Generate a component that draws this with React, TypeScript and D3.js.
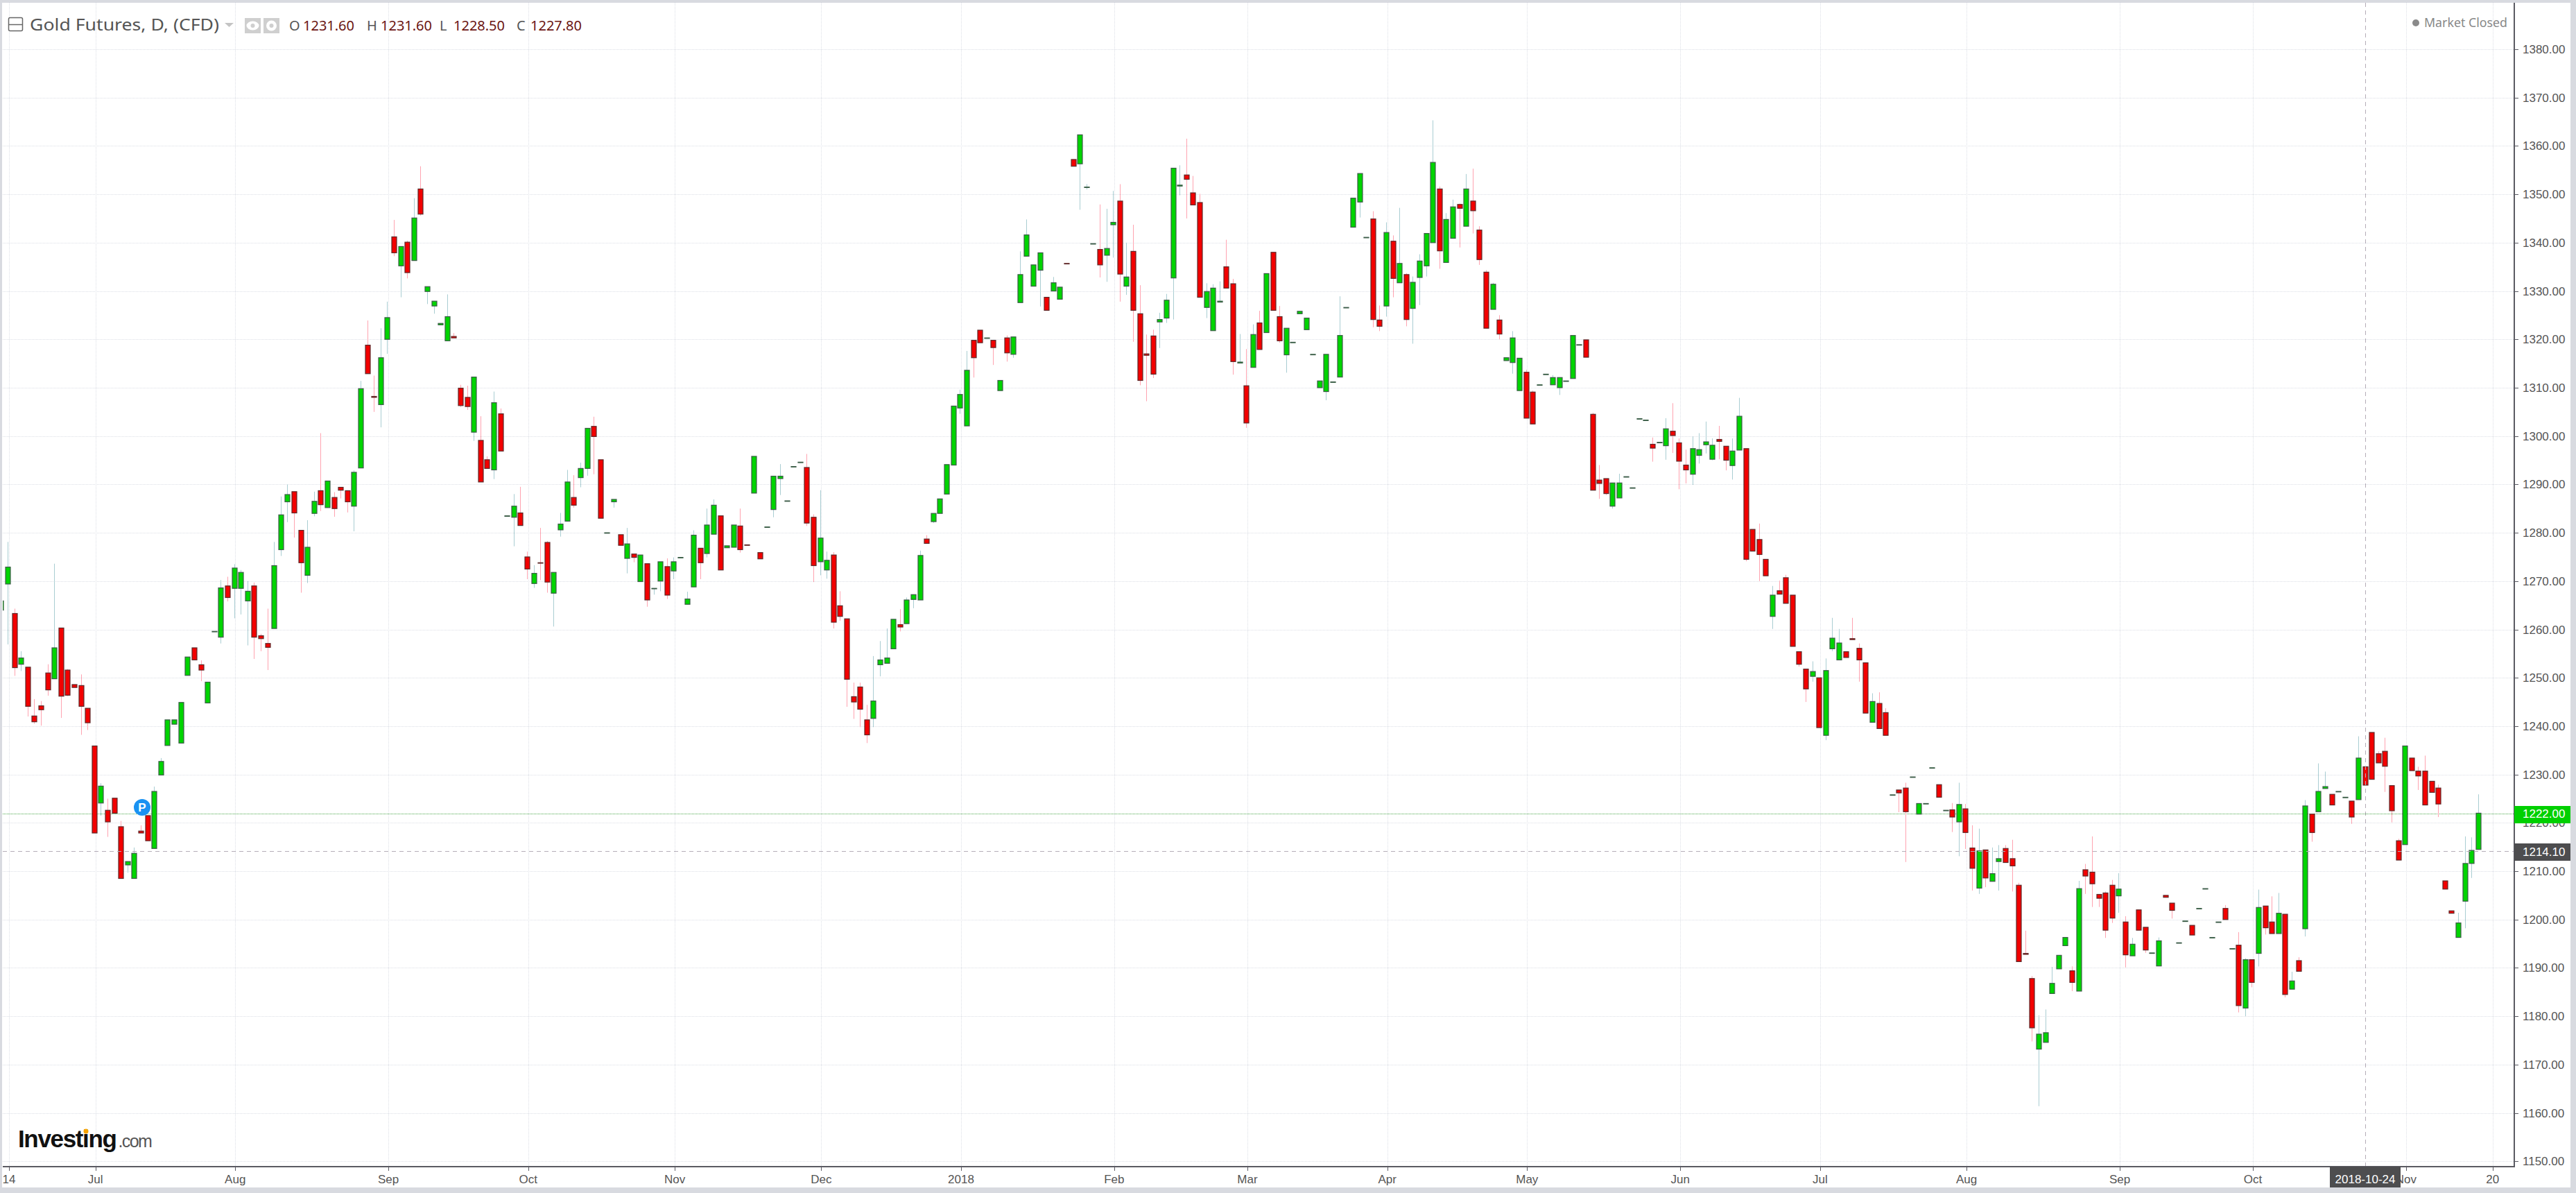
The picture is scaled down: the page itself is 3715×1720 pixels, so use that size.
import React from "react";
import * as d3 from "d3";

type Row = [number, number, number, number];
// each row: open, high, low, close
const jun17: Row[] = [[1264,1265.9,1264,1265.9],[1269.4,1278.1,1256.9,1272.9],[1263.3,1264.3,1250.4,1252.1],[1252.8,1255.5,1251.4,1254.1],[1252.2,1252.2,1242,1244.1],[1242.1,1245.6,1240.5,1240.9],[1244.2,1245.2,1240.1,1243.4],[1251,1252.8,1246.3,1247.5],[1249.8,1273.6,1249.8,1256.2],[1260.3,1260.3,1241.7,1246.2],[1251.6,1251.8,1246.2,1246.4],[1248.6,1248.6,1248,1248],[1248.4,1250.7,1238.2,1244.1],[1243.7,1243.7,1239.2,1240.7]];
const jul17: Row[] = [[1235.9,1235.9,1217.9,1217.9],[1224.1,1228.2,1221.5,1227.6],[1222.6,1225,1217.1,1220.2],[1225.1,1225.1,1222,1222],[1219.2,1220.4,1208.5,1208.5],[1211.3,1212,1209.7,1212],[1208.5,1214.9,1208.5,1213.7],[1218.3,1219.5,1217.9,1217.9],[1221.5,1221.5,1216.3,1216.3],[1214.7,1227.5,1214.7,1226.5],[1229.9,1233.4,1229.9,1232.7],[1236,1241.3,1236,1241.3],[1240.4,1241.3,1240.4,1241.3],[1236.5,1244.9,1236.5,1244.9],[1250.5,1254.3,1250.5,1254.3],[1256.2,1256.2,1253.7,1253.7],[1252.7,1253.6,1249.3,1251.6],[1244.8,1249.1,1244.8,1249.1],[1259.5,1259.6,1259.5,1259.6],[1258.4,1270.2,1257.1,1268.6],[1269,1270.9,1265.8,1266.6]];
const aug17: Row[] = [[1268.5,1273.5,1262.3,1272.7],[1268.5,1272.3,1263.1,1271.8],[1265.9,1270,1256.7,1267.9],[1269,1269.7,1253.9,1258.4],[1258.7,1259.1,1255.5,1258.1],[1257.1,1264.3,1251.6,1256.3],[1260.2,1278.1,1260.2,1273.2],[1276.5,1287.5,1275.2,1283.7],[1286.4,1290,1282.2,1287.9],[1288.5,1288.5,1279,1284.1],[1280.5,1280.5,1267.6,1273.8],[1271.2,1282.6,1269.6,1277],[1284,1288.5,1283.4,1286.5],[1288.7,1300.6,1284.5,1285.8],[1285.2,1290.7,1285.2,1290.7],[1287.3,1288.4,1283.3,1285],[1289.4,1289.4,1287.1,1288.8],[1288.7,1288.7,1284.2,1286.4],[1285.5,1292.9,1280.3,1292.5],[1293.4,1311.4,1293.4,1309.8],[1318.8,1323.9,1312.9,1312.9],[1308.2,1312.5,1305,1308],[1306.5,1322.3,1301.8,1316.2]];
const sep17: Row[] = [[1320,1327.8,1317,1324.5],[1341.2,1344.7,1337.2,1337.9],[1335.2,1339.2,1328.7,1339.2],[1340.1,1340.4,1332.6,1333.8],[1336.3,1349.2,1336.3,1345.1],[1351.1,1355.8,1345.6,1345.9],[1329.9,1330.9,1327.3,1330.9],[1326.9,1327.9,1325.3,1327.9],[1323,1323.3,1323,1323.3],[1319.7,1329.3,1319.7,1324.7],[1320.6,1321.3,1320.3,1320.3],[1309.9,1310.6,1306,1306.3],[1308,1310.4,1305.4,1306.1],[1300.8,1312.2,1299,1312.2],[1299.1,1304.1,1290.5,1290.5],[1295.1,1295.8,1293.3,1293.3],[1293,1309.2,1291.1,1306.9],[1304.6,1305.7,1296.9,1296.9],[1283.4,1283.5,1283.4,1283.5],[1283.2,1288,1277.2,1285.5],[1284.1,1289.5,1281.5,1281.5]];
const oct17: Row[] = [[1275,1276.1,1270.4,1272.5],[1269.5,1273.3,1268.6,1271.6],[1273.8,1281,1270.2,1273.7],[1278,1278.3,1267.6,1269.8],[1267.5,1271.8,1260.6,1271.8],[1280.6,1284.1,1279.2,1281.8],[1282.4,1293,1282.4,1290.5],[1287.3,1291.9,1285.2,1285.7],[1291.4,1294.5,1289.4,1293.3],[1293.3,1301.6,1291.8,1301.6],[1302,1304,1292.1,1299.9],[1295.1,1295.1,1283,1283],[1279.9,1280,1279.9,1280],[1286.4,1286.9,1285.2,1286.9],[1279.6,1279.6,1277.4,1277.4],[1274.7,1281,1271.6,1277.7],[1275.6,1275.6,1273.9,1274.9],[1269.9,1275.4,1269.9,1275.4],[1273.6,1273.6,1264.7,1266.1],[1268.4,1268.5,1267.2,1268.5],[1270,1274,1267.9,1274],[1273,1274.7,1266.3,1267.1]];
const nov17: Row[] = [[1272.1,1274.9,1270.4,1274],[1274.8,1274.9,1274.8,1274.9],[1265.2,1267.8,1265.2,1266.3],[1268.8,1280.5,1268.8,1279.5],[1276.8,1276.8,1270.4,1273.8],[1275.7,1285,1274.9,1281.6],[1279.7,1286.9,1279.7,1285.7],[1283.5,1283.5,1272.3,1272.3],[1276.9,1277.3,1276.9,1277.3],[1277,1281.6,1277,1281.6],[1281.4,1285,1275.9,1276.5],[1277.5,1277.5,1277.4,1277.4],[1288.2,1295.8,1288.2,1295.8],[1275.9,1275.9,1274.6,1274.6],[1281.1,1281.2,1281.1,1281.2],[1284.8,1291.7,1283.2,1291.7],[1291.2,1294.2,1287.8,1291.7],[1286.5,1286.6,1286.5,1286.6],[1293.6,1293.7,1293.6,1293.7],[1294.5,1294.6,1294.5,1294.6],[1293.5,1296.3,1281.4,1282],[1283.2,1283.8,1269.8,1273.2]];
const dec17: Row[] = [[1274,1288.8,1271.2,1278.9],[1272.3,1276.1,1270.5,1274.3],[1275.4,1276,1260.2,1261.5],[1264.9,1267.9,1261.8,1262.7],[1262.2,1262.2,1244,1249.7],[1246.1,1249,1241.5,1245],[1248.1,1249,1239.8,1243.5],[1241.3,1244.4,1236.5,1238.2],[1241.6,1254.5,1239.8,1245.2],[1252.7,1257.6,1250.3,1253.7],[1253,1260.2,1253,1254.1],[1256,1262.1,1256,1262.1],[1261,1264.2,1259.6,1260.5],[1261.2,1266.6,1261.2,1266.1],[1266.2,1267.2,1264.4,1267.2],[1266.1,1276.3,1266.1,1275.3],[1278.7,1279.5,1277.8,1277.8],[1282.3,1284,1282,1284],[1284,1287,1284,1287],[1288,1294.1,1288,1294.1],[1294,1306.2,1294,1306.2]];
const jan18: Row[] = [[1305.8,1309.6,1304.6,1308.6],[1302.1,1317.6,1302.1,1313.6],[1319.8,1319.8,1312.1,1316.2],[1321.9,1321.9,1319.3,1319.3],[1320.2,1320.3,1320.2,1320.3],[1319.8,1319.8,1314.7,1318.3],[1309.4,1311.5,1309.4,1311.5],[1320.3,1320.8,1315.4,1317.2],[1316.9,1320.5,1316.2,1320.5],[1327.6,1338.2,1327.6,1333.4],[1337.2,1344.8,1337.2,1341.6],[1331,1335.4,1331,1335.4],[1334.3,1337.9,1326.8,1337.9],[1328.7,1328.7,1326,1326],[1330,1332.9,1330,1331.7],[1328.3,1330.8,1328.3,1330.8],[1335.7,1335.7,1335.6,1335.6],[1357.2,1357.2,1355.8,1355.8],[1356.3,1362.3,1346.8,1362.3],[1351.4,1352.1,1351,1351.5],[1339.7,1339.8,1339.7,1339.8],[1338.6,1347.9,1332.8,1335.4],[1337.4,1347,1331.9,1338.8]];
const feb18: Row[] = [[1343.7,1350.7,1336.9,1344.2],[1348.6,1352.1,1327.8,1333.5],[1331,1340,1329.2,1332.9],[1338.2,1343.7,1319.5,1326],[1325.3,1331.2,1310.5,1311.5],[1317,1321,1307.2,1316.7],[1320.7,1322,1312,1312.8],[1323.6,1325.5,1318.2,1324.1],[1324.4,1329.4,1323.4,1328.1],[1332.7,1355.4,1324.1,1355.4],[1351.7,1356,1349.8,1351.9],[1354,1361.5,1345,1353.1],[1350.3,1353.8,1347.8,1347.8],[1348.3,1350.1,1328.7,1328.7],[1326.6,1331.6,1324.4,1329.9],[1321.8,1331.4,1321.8,1330.6],[1327.7,1332,1327.7,1327.9],[1335,1340.6,1330.6,1330.6],[1331.5,1332.5,1312.7,1315.4],[1315.1,1321.1,1315.1,1315.3]];
const mar18: Row[] = [[1310.4,1318,1301.7,1302.7],[1314.2,1323.1,1314.2,1321],[1323.4,1325.9,1317.9,1317.9],[1321.4,1333.6,1321.4,1333.6],[1338,1338,1326,1326],[1324.7,1326.9,1319.3,1319.7],[1316.8,1322.3,1313.1,1322.3],[1319.3,1319.4,1319.3,1319.4],[1325.3,1325.8,1325.3,1325.8],[1322,1324.4,1322,1324.4],[1316.8,1316.9,1316.8,1316.9],[1310,1311.4,1310,1311.4],[1309.2,1316.9,1307.4,1316.9],[1311.1,1311.2,1311.1,1311.2],[1312.2,1328.9,1312.2,1320.8],[1326.5,1326.6,1326.5,1326.6],[1343.2,1349.2,1343.2,1349.2],[1348.4,1354.3,1345.2,1354.3],[1341,1341.1,1341,1341.1],[1344.9,1346.5,1322.5,1324.1],[1324,1327,1321.7,1322.7]];
const apr18: Row[] = [[1326.9,1344.2,1324.7,1342.1],[1340.3,1341.5,1328.7,1332.6],[1331.7,1347.2,1331.7,1335.7],[1333.4,1333.7,1322.7,1324.1],[1326.4,1333,1319.1,1331.8],[1332.8,1337.6,1327.1,1336.2],[1335.2,1341.9,1333,1341.9],[1340,1365.3,1340,1356.6],[1351.1,1351.6,1334.6,1338.3],[1335.9,1346.1,1335.9,1344.8],[1340.9,1348.9,1340.9,1347.4],[1347.9,1348.1,1339,1347.1],[1343.4,1354.2,1343.4,1351.1],[1348.6,1355.3,1341.9,1346.6],[1342.6,1343.4,1335.4,1336.5],[1333.9,1334.3,1322.3,1322.3],[1326.2,1331.7,1326.2,1331.4],[1324,1325,1320,1321.1],[1315.6,1316.2,1315.6,1316.2],[1315.2,1321.7,1312.9,1320.3],[1309.4,1316.1,1309.4,1316.1]];
const may18: Row[] = [[1313.2,1313.7,1303.7,1303.7],[1309.1,1309.4,1302.5,1302.5],[1310.5,1310.6,1310.5,1310.6],[1312.7,1312.8,1312.7,1312.8],[1310.6,1312.6,1310.6,1312.1],[1310,1312.1,1308.5,1312.1],[1311.3,1311.4,1311.3,1311.4],[1311.9,1320.8,1311.9,1320.8],[1318.8,1318.9,1318.8,1318.9],[1319.9,1319.9,1316.3,1316.3],[1304.5,1304.8,1288.8,1288.8],[1290.9,1294,1287,1290.2],[1291.2,1291.2,1287.8,1288.1],[1285.5,1290.3,1285,1290.3],[1287.2,1292.2,1287.2,1290.3],[1291.5,1291.6,1291.5,1291.6],[1289.2,1289.3,1289.2,1289.3],[1303.5,1303.6,1303.5,1303.6],[1303.2,1303.3,1303.2,1303.3],[1298.3,1299.7,1294.7,1297.5],[1298.6,1298.7,1298.6,1298.7],[1298,1303.7,1295.1,1301.5],[1301,1306.8,1296.5,1300.1]];
const jun18: Row[] = [[1298.6,1299.5,1289,1294.8],[1294,1297.2,1290.2,1293],[1292.1,1299.9,1289.9,1297.4],[1296,1300.6,1294.3,1297.2],[1298.2,1303,1296.4,1298.8],[1295.2,1299.5,1295,1298.1],[1299.3,1302.1,1295.2,1298.9],[1297.9,1297.9,1292.9,1295],[1293.9,1299.5,1291,1296.9],[1297.1,1307.9,1297.1,1304.1],[1297.4,1297.4,1274.1,1274.5],[1280.7,1280.7,1276.2,1276.2],[1278.6,1281.9,1270,1275.5],[1274.5,1274.5,1271.1,1271.1],[1262.7,1269,1260.1,1267.1],[1268,1270.1,1267.3,1267.3],[1270.7,1271.3,1265.4,1265.4],[1267.1,1267.1,1256.5,1256.5],[1255.4,1255.4,1252.3,1252.8],[1251.8,1251.8,1245,1247.7],[1250.3,1253.4,1249.2,1251.3]];
const jul18: Row[] = [[1250,1250,1239.7,1239.7],[1238.1,1254,1237.1,1251.5],[1256,1262.4,1255.5,1258.2],[1253.7,1260.1,1253.7,1257.2],[1255.4,1255.4,1254.2,1254.2],[1258.1,1262.4,1257.9,1257.9],[1256.1,1257.1,1249.2,1253.7],[1253.1,1253.1,1242.7,1242.7],[1240.8,1246.8,1240.8,1245.1],[1244.7,1247,1239.5,1239.5],[1242.8,1243.7,1238.1,1238.1],[1225.7,1225.8,1225.7,1225.8],[1226.8,1226.8,1222.2,1226.2],[1227.2,1228.3,1211.9,1222.3],[1229.4,1229.5,1229.4,1229.5],[1221.8,1224,1221.8,1224],[1223.9,1224,1223.9,1224],[1231.3,1231.4,1231.3,1231.4],[1227.9,1227.9,1225.3,1225.3],[1222.5,1222.6,1222.5,1222.6],[1222.7,1224.1,1218.1,1221.2],[1220.2,1228.3,1213.1,1223.8]];
const aug18: Row[] = [[1222.9,1223.9,1214.6,1218],[1214.8,1219.5,1206,1210.6],[1206.5,1218.8,1205.3,1214.2],[1214.4,1214.4,1206.7,1208.6],[1207.9,1214.9,1207.9,1209.5],[1212,1215.4,1206,1212.6],[1214.7,1215.4,1211.8,1211.8],[1212.6,1216.5,1205.8,1211.1],[1207.1,1207.6,1191.3,1191.3],[1193,1197.7,1192.8,1192.8],[1187.8,1188.3,1174.8,1177.6],[1173.2,1180.2,1161.4,1176.3],[1174.6,1181.4,1174.6,1176.6],[1184.7,1190.2,1184.7,1186.8],[1189.8,1192.6,1189.8,1192.6],[1194.6,1196.3,1194.6,1196.3],[1189.4,1190.3,1185.2,1187],[1185.2,1208,1185.2,1206.4],[1210.3,1211.5,1205.3,1209],[1209.8,1217.2,1202.6,1207.4],[1205.2,1205.2,1202.6,1204.4],[1205.5,1205.8,1196.2,1197.8],[1207.1,1208.2,1199.3,1200.3]];
const sep18: Row[] = [[1204.9,1209.6,1201.4,1206.3],[1199.5,1200.7,1190.1,1192.7],[1192.5,1196.2,1192.5,1194.9],[1202,1202,1197.8,1197.8],[1198.4,1198.4,1193.1,1193.7],[1193,1193.1,1193,1193.1],[1190.4,1196.3,1190.4,1195.6],[1205,1205,1204.6,1204.6],[1203.4,1203.4,1200.2,1201.9],[1195.1,1195.2,1195.1,1195.2],[1199.6,1199.7,1199.6,1199.7],[1198.8,1198.8,1196.8,1196.8],[1202.2,1202.3,1202.2,1202.3],[1206.3,1206.4,1206.3,1206.4],[1196.2,1196.3,1196.2,1196.3],[1199.4,1199.5,1199.4,1199.5],[1202.3,1203,1200,1200],[1193.9,1194,1193.9,1194],[1194.7,1197.4,1180.8,1182.2],[1181.7,1192,1180,1191.7]];
const oct18: Row[] = [[1191.7,1191.7,1186,1187],[1193,1206.2,1190.3,1202.5],[1202.8,1202.8,1196.9,1198.3],[1199.5,1204.8,1197.1,1197.1],[1197.1,1205.5,1197.1,1201.3],[1201.1,1201.1,1183.9,1184.5],[1185.6,1189.2,1185.6,1187.3],[1191.5,1192.2,1189.3,1189.3],[1198.1,1224.7,1196.5,1223.5],[1221.8,1221.8,1216.1,1218],[1222.3,1232.3,1222.3,1226.5],[1227.1,1230.6,1227.1,1227.5],[1225.9,1225.9,1223.7,1223.7],[1226.4,1226.5,1226.4,1226.5],[1225.2,1225.3,1225.2,1225.3],[1224.5,1224.5,1219.8,1221.2],[1224.8,1237.9,1224.8,1233.4],[1231.6,1231.6,1227.8,1227.8],[1238.7,1238.7,1229,1229],[1234.3,1234.8,1232.4,1232.4],[1234.8,1237.6,1226.4,1231.7],[1227.7,1227.7,1220.1,1222.5],[1216.3,1216.7,1212.3,1212.3]];
const nov18: Row[] = [[1215.5,1235.9,1215.5,1235.9],[1233.4,1233.4,1230.8,1230.8],[1230.7,1231.6,1226.8,1229.7],[1230.7,1233.9,1223.7,1223.7],[1228.6,1228.6,1226.3,1226.3],[1227.2,1227.9,1221.2,1223.9],[1208,1208,1206.3,1206.3],[1201.8,1201.8,1201.3,1201.3],[1196.3,1201.4,1196.3,1199.3],[1203.8,1217.2,1198.2,1211.6],[1211.6,1217,1208.6,1214.3],[1214.5,1225.9,1214.5,1222]];

const candles: Row[] = [...jun17, ...jul17, ...aug17, ...sep17, ...oct17, ...nov17, ...dec17, ...jan18, ...feb18, ...mar18, ...apr18, ...may18, ...jun18, ...jul18, ...aug18, ...sep18, ...oct18, ...nov18];

const priceTicks = [1380,1370,1360,1350,1340,1330,1320,1310,1300,1290,1280,1270,1260,1250,1240,1230,1220,1210,1200,1190,1180,1170,1160,1150];
const timeLabels = ["14","Jul","Aug","Sep","Oct","Nov","Dec","2018","Feb","Mar","Apr","May","Jun","Jul","Aug","Sep","Oct","Nov","20"];
const timeBars = [1,14,35,58,79,101,123,144,167,187,208,229,252,273,295,318,338,361,374];
const ohlcLabels = ["O","H","L","C"];
const ohlcValues = ["1231.60","1231.60","1228.50","1227.80"];
const lastPrice = 1222;
const crossPrice = 1214.1;
const crossBar = 355;
const crossDate = "2018-10-24";
const markerBar = 21.2;
const markerPrice = 1223.2;

const W = 3715, H = 1720;
const L = 4, R = 3626, T = 4, B = 1682;
const AXIS = "Liberation Sans, Arial, sans-serif";
const UI = "'Noto Sans', sans-serif";
const GRID = "#dcdfe6";
const TEXT = "#555";

const x = d3.scaleLinear().domain([0, 372]).range([1.4, 3573.9]);
const y = d3.scaleLinear().domain([1380, 1150]).range([71, 1674.3]);
const tickX = (b: number) => x(b) + 1.7;

export default function App() {
  const groupX = [417, 529, 634, 745];
  return (
    <svg width={W} height={H} viewBox={`0 0 ${W} ${H}`} style={{ position: "absolute", left: 0, top: 0, display: "block" }}>
      <defs>
        <clipPath id="plot"><rect x={L} y={T} width={R - L} height={B - T} /></clipPath>
        <clipPath id="yax"><rect x={R} y={T} width={W - R} height={1680 - T} /></clipPath>
      </defs>
      <rect width={W} height={H} fill="#d8dae0" />
      <rect x={3} y={4} width={3704} height={1708} fill="#fff" />

      <g clipPath="url(#plot)">
        {priceTicks.map((p) => (
          <line key={p} x1={L} x2={R} y1={Math.round(y(p)) + 0.5} y2={Math.round(y(p)) + 0.5} stroke={GRID} strokeDasharray="1 1" />
        ))}
        {timeBars.map((b, i) => (
          <line key={i} x1={Math.round(tickX(b)) + 0.5} x2={Math.round(tickX(b)) + 0.5} y1={T} y2={B} stroke={GRID} strokeDasharray="1 1" />
        ))}
        <line x1={L} x2={R} y1={Math.round(y(lastPrice)) + 1.5} y2={Math.round(y(lastPrice)) + 1.5} stroke="#4aa84a" strokeDasharray="1 1" />
        {candles.map(([o, h, l, c], i) => {
          const up = c >= o;
          const cx = Math.round(x(i)) + 0.5;
          const top = y(Math.max(o, c));
          const bot = y(Math.min(o, c));
          return (
            <g key={i}>
              {h > l && <line x1={cx} x2={cx} y1={y(h)} y2={y(l)} stroke={up ? "#a9cdd2" : "#ffa3b0"} />}
              <rect x={cx - 3.5} y={top} width={7} height={Math.max(bot - top, 0.6)} fill={up ? "#00d400" : "#f20000"} stroke={up ? "#3c5c48" : "#5e2a2a"} strokeWidth={1.2} />
            </g>
          );
        })}
        <line x1={L} x2={R} y1={Math.round(y(crossPrice)) + 0.5} y2={Math.round(y(crossPrice)) + 0.5} stroke="#b5adb8" strokeDasharray="6 5" />
        <line x1={Math.round(x(crossBar)) + 0.5} x2={Math.round(x(crossBar)) + 0.5} y1={T} y2={B} stroke="#b5adb8" strokeDasharray="6 5" />
        <circle cx={x(markerBar)} cy={y(markerPrice)} r={12} fill="#1a92f2" />
        <text x={x(markerBar)} y={y(markerPrice) + 6} fontFamily={AXIS} fontWeight="bold" fontSize={17} fill="#fff" textAnchor="middle">P</text>
      </g>

      {/* axes */}
      <line x1={R} x2={R} y1={T} y2={B + 1} stroke="#5a5a62" strokeWidth={2} />
      <line x1={L} x2={R} y1={B} y2={B} stroke="#5a5a62" strokeWidth={2} />
      <g clipPath="url(#yax)">
        {priceTicks.map((p) => (
          <g key={p}>
            <line x1={R} x2={R + 6} y1={Math.round(y(p)) + 0.5} y2={Math.round(y(p)) + 0.5} stroke="#5a5a62" />
            <text x={3638} y={y(p) + 6} fontFamily={AXIS} fontSize={17} fill={TEXT}>{d3.format(".2f")(p)}</text>
          </g>
        ))}
      </g>
      {timeBars.map((b, i) => (
        <g key={i}>
          <line x1={Math.round(tickX(b)) + 0.5} x2={Math.round(tickX(b)) + 0.5} y1={B} y2={B + 6} stroke="#5a5a62" />
          <text x={i === 0 ? 13 : tickX(b)} y={1706} fontFamily={AXIS} fontSize={17} fill={TEXT} textAnchor="middle">{timeLabels[i]}</text>
        </g>
      ))}

      {/* last price and crosshair labels */}
      <rect x={R} y={1162} width={81} height={25} fill="#00d000" />
      <text x={3638} y={y(lastPrice) + 7} fontFamily={AXIS} fontSize={17} fill="#fff">{d3.format(".2f")(lastPrice)}</text>
      <rect x={R} y={1216} width={81} height={25} fill="#4d4d4f" />
      <text x={3638} y={y(crossPrice) + 6.5} fontFamily={AXIS} fontSize={17} fill="#fff">{d3.format(".2f")(crossPrice)}</text>
      <rect x={3360} y={1682} width={102} height={30} fill="#4d4d4f" />
      <text x={3411} y={1706} fontFamily={AXIS} fontSize={17} fill="#fff" textAnchor="middle">{crossDate}</text>

      {/* header */}
      <rect x={12.5} y={25.5} width={20} height={19} rx={2} fill="#fff" stroke="#666" strokeWidth={1.5} />
      <line x1={13} x2={32} y1={35.5} y2={35.5} stroke="#666" strokeWidth={1.5} />
      <text x={43} y={44} fontFamily={UI} fontSize={23} fill="#555" textLength={273} lengthAdjust="spacingAndGlyphs">Gold Futures, D, (CFD)</text>
      <path d="M324 33 L337 33 L330.5 39 Z" fill="#c4c4c4" />
      <rect x={353} y={26} width={23} height={22} fill="#cfcfcf" />
      <ellipse cx={364.5} cy={37} rx={9} ry={6.5} fill="#fff" />
      <circle cx={364.5} cy={37} r={3} fill="#cfcfcf" />
      <rect x={380} y={26} width={23} height={22} fill="#cfcfcf" />
      <circle cx={391.5} cy={37} r={7.5} fill="#fff" />
      <circle cx={391.5} cy={37} r={3} fill="#cfcfcf" />
      {ohlcLabels.map((t, i) => (
        <g key={t}>
          <text x={groupX[i]} y={44} fontFamily={UI} fontSize={20} fill="#555">{t}</text>
          <text x={groupX[i] + 20} y={44} fontFamily={UI} fontSize={20} fill="#6b1512">{ohlcValues[i]}</text>
        </g>
      ))}
      <circle cx={3484} cy={33} r={5} fill="#8a8a8a" />
      <text x={3496} y={39} fontFamily={UI} fontSize={18} fill="#888" textLength={120} lengthAdjust="spacingAndGlyphs">Market Closed</text>

      {/* logo */}
      <text x={26} y={1654} fontFamily={AXIS}>
        <tspan fontWeight="bold" fontSize={35} fill="#111" letterSpacing={-1.35}>Investing</tspan>
        <tspan dx={3} fontSize={25} fill="#555" letterSpacing={-1.6}>.com</tspan>
      </text>
      <circle cx={124} cy={1631} r={3.5} fill="#f8a400" />
    </svg>
  );
}
